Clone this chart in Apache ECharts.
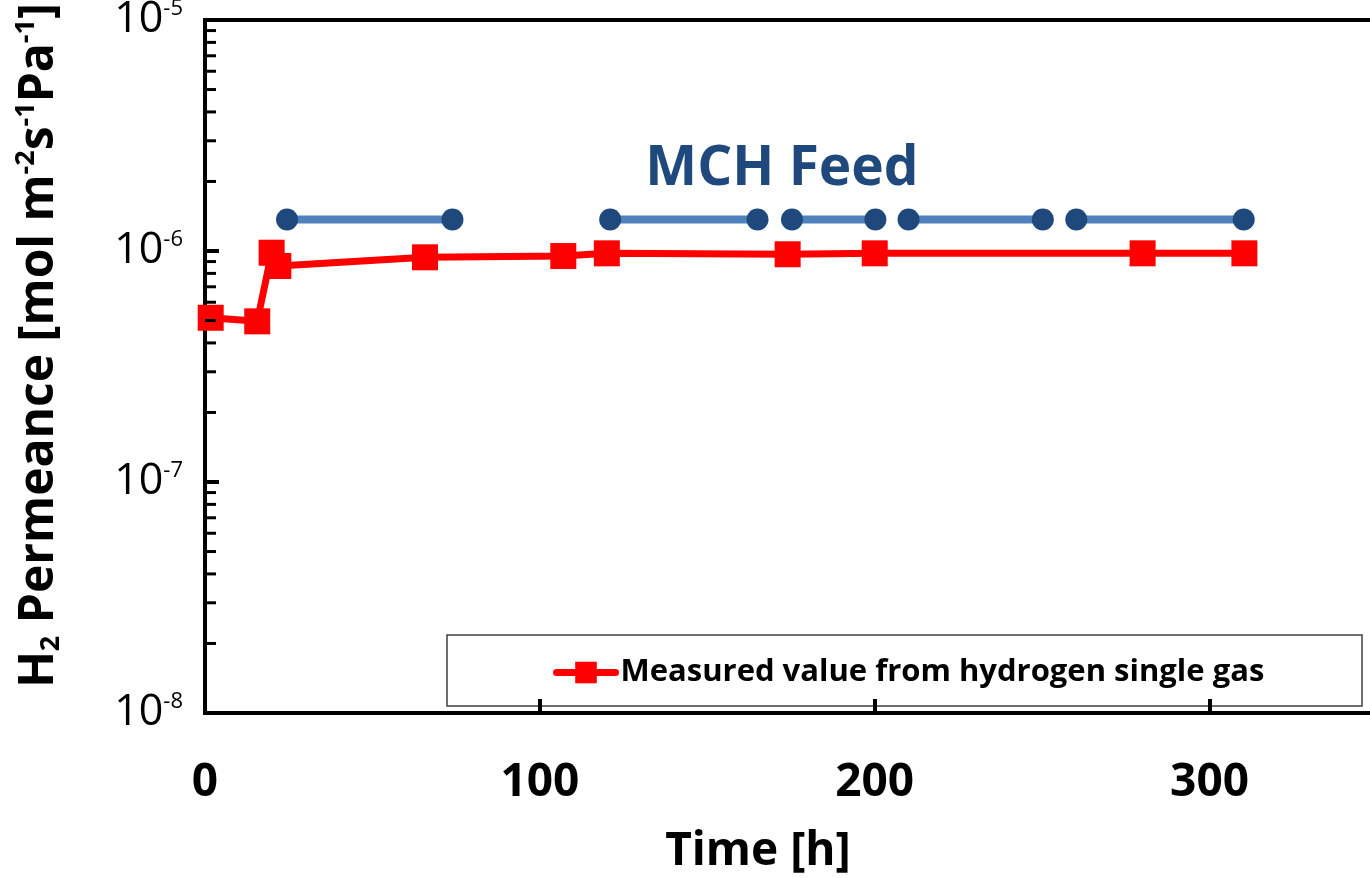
<!DOCTYPE html>
<html>
<head>
<meta charset="utf-8">
<script src="https://cdn.jsdelivr.net/npm/echarts@6/dist/echarts.min.js"></script>
<style>
html,body{margin:0;padding:0;background:#fff;}
#chart{width:1370px;height:878px;}
</style>
</head>
<body>
<div id="chart"></div>
<script>
// ---- data ----
const redName = 'Measured value from hydrogen single gas';
const redTime = [1.7, 15.6, 19.9, 21.9, 65.7, 107, 120, 174, 200, 280, 310.4];
const redPermeance = [5.14e-7, 4.96e-7, 9.83e-7, 8.61e-7, 9.39e-7, 9.51e-7, 9.77e-7, 9.68e-7, 9.77e-7, 9.77e-7, 9.77e-7];
const feedStart = [24.5, 121, 175.3, 210.1, 260.2];
const feedEnd = [73.9, 165, 200.2, 250.2, 310.2];
const feedLevel = 1.37e-6;
const feedLabel = 'MCH Feed';
const xTicks = [0, 100, 200, 300];
const xMin = 0, xMax = 350, xStep = 100;
const yMin = 1e-8, yMax = 1e-5;
const minorMultipliers = [2, 3, 4, 5, 6, 7, 8, 9];
const minorDecades = [-8, -7, -6];

const FONT = 'Open Sans';

const redData = redTime.map((t, i) => [t, redPermeance[i]]);
const minorTickData = [];
minorDecades.forEach(e => minorMultipliers.forEach(m => minorTickData.push([xMin, m * Math.pow(10, e)])));

const feedSeries = feedStart.map((s, i) => ({
  type: 'line',
  name: 'feed' + i,
  data: [[s, feedLevel], [feedEnd[i], feedLevel]],
  symbol: 'circle',
  symbolSize: 22,
  lineStyle: {color: '#4f81bd', width: 8},
  itemStyle: {color: '#1f497d'},
  z: 3
}));

const chart = echarts.init(document.getElementById('chart'));
chart.setOption({
  backgroundColor: '#fff',
  animation: false,
  grid: {left: 205, top: 20, width: 1172, height: 693, outerBoundsMode: 'none', containLabel: false,
         show: true, borderColor: '#000', borderWidth: 4, backgroundColor: 'transparent'},
  xAxis: {
    type: 'value', min: xMin, max: xMax, interval: xStep,
    axisLine: {lineStyle: {color: '#000', width: 4}},
    axisTick: {inside: true, length: 14, lineStyle: {color: '#000', width: 4}},
    splitLine: {show: false},
    axisLabel: {
      showMaxLabel: false, margin: 47,
      fontFamily: FONT, fontSize: 46, fontWeight: 'bold', color: '#000', lineHeight: 46,
      formatter: v => (xTicks.indexOf(v) >= 0 ? String(v) : '')
    },
    name: 'Time [h]', nameLocation: 'middle', nameGap: 116,
    nameTextStyle: {fontFamily: FONT, fontSize: 46, fontWeight: 'bold', color: '#000', lineHeight: 46, padding: [0, 66, 0, 0]}
  },
  yAxis: {
    type: 'log', logBase: 10, min: yMin, max: yMax,
    axisLine: {lineStyle: {color: '#000', width: 4}},
    axisTick: {inside: true, length: 14, lineStyle: {color: '#000', width: 4}},
    splitLine: {show: false},
    axisLabel: {
      margin: 22,
      formatter: v => '{b|10}{s|' + Math.round(Math.log10(v)) + '}',
      rich: {
        b: {fontFamily: FONT, fontSize: 43, color: '#000', lineHeight: 44},
        s: {fontFamily: FONT, fontSize: 22, color: '#000', lineHeight: 22, verticalAlign: 'top'}
      }
    },
    name: '{b|H}{sub|2}{b| Permeance [mol m}{sup|-2}{b|s}{sup|-1}{b|Pa}{sup|-1}{b|]}',
    nameLocation: 'middle', nameGap: 140,
    nameTextStyle: {
      padding: [0, 0, 0, 42],
      rich: {
        b: {fontFamily: FONT, fontSize: 48, fontWeight: 'bold', color: '#000', lineHeight: 52},
        sub: {fontFamily: FONT, fontSize: 27, fontWeight: 'bold', color: '#000', lineHeight: 8, verticalAlign: 'bottom'},
        sup: {fontFamily: FONT, fontSize: 27, fontWeight: 'bold', color: '#000', lineHeight: 26, verticalAlign: 'top'}
      }
    }
  },
  legend: {
    data: [redName], left: 553, top: 657, padding: 0,
    itemWidth: 59, itemHeight: 27,
    lineStyle: {width: 7, cap: 'round'},
    textStyle: {fontFamily: FONT, fontSize: 31, fontWeight: 'bold', color: '#000', lineHeight: 30}
  },
  graphic: [
    {type: 'rect', shape: {x: 447, y: 635, width: 915, height: 71}, style: {stroke: '#404040', lineWidth: 1.5, fill: null}, z: 0, silent: true},
    {type: 'text', x: 782, y: 169, style: {text: feedLabel, fontFamily: FONT, fontSize: 55, fontWeight: 'bold', fill: '#1f497d', align: 'center', verticalAlign: 'middle'}, z: 10}
  ],
  series: [
    ...feedSeries,
    {
      type: 'line', name: redName, data: redData,
      symbol: 'rect', symbolSize: 26,
      lineStyle: {color: '#ff0000', width: 7},
      itemStyle: {color: '#ff0000'},
      z: 4
    },
    {
      type: 'custom', name: 'minorTicks', data: minorTickData, silent: true, z: 5,
      encode: {x: 0, y: 1},
      renderItem: (params, api) => {
        const p = api.coord([api.value(0), api.value(1)]);
        return {type: 'line', shape: {x1: p[0], y1: p[1], x2: p[0] + 11, y2: p[1]}, style: {stroke: '#000', lineWidth: 3}};
      }
    }
  ]
});
</script>
</body>
</html>
